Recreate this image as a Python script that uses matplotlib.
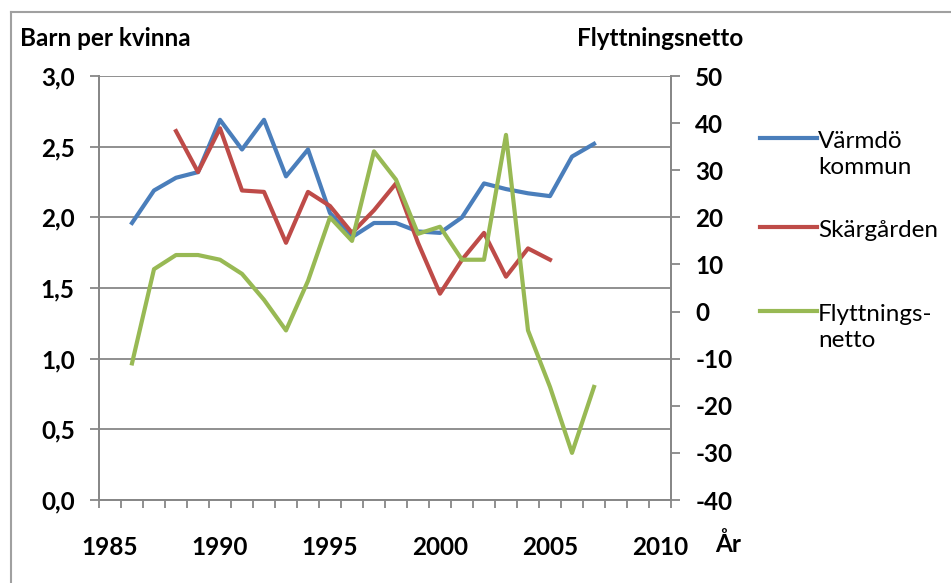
import matplotlib
matplotlib.use("Agg")
import matplotlib.pyplot as plt
from matplotlib.lines import Line2D

plt.rcParams['font.family'] = ['Lato', 'DejaVu Sans']
plt.rcParams['axes.unicode_minus'] = False

# Data
years_varmdo = list(range(1986, 2008))
varmdo = [1.96, 2.19, 2.28, 2.32, 2.69, 2.48, 2.69, 2.29, 2.48, 2.03, 1.86,
          1.96, 1.96, 1.90, 1.89, 2.00, 2.24, 2.20, 2.17, 2.15, 2.43, 2.52]

years_skargarden = list(range(1988, 2006))
skargarden = [2.61, 2.32, 2.63, 2.19, 2.18, 1.82, 2.18, 2.08, 1.89, 2.05,
              2.24, 1.82, 1.46, 1.70, 1.89, 1.58, 1.78, 1.70]

years_flytt = list(range(1986, 2008))
flytt = [-11, 9, 12, 12, 11, 8, 2.5, -4, 6.5, 20, 15, 34, 28, 16.5, 18, 11,
         11, 37.5, -4, -16, -30, -16]

left_ticks = [0.0, 0.5, 1.0, 1.5, 2.0, 2.5, 3.0]
left_tick_labels = ["0,0", "0,5", "1,0", "1,5", "2,0", "2,5", "3,0"]
right_ticks = [-40, -30, -20, -10, 0, 10, 20, 30, 40, 50]
x_ticks = [1985, 1990, 1995, 2000, 2005, 2010]

legend_labels = ["Värmdö\nkommun", "Skärgården", "Flyttnings-\nnetto"]
colors = ["#4A7EBB", "#BE4B48", "#98B954"]
grey = "#878787"
fs = 17.5

W, H = 951, 583
fig = plt.figure(figsize=(W / 100, H / 100), dpi=100)

# outer frame (top and left edges visible)
fig.add_artist(Line2D([11 / W, 11 / W], [0, 1 - 12 / H], transform=fig.transFigure,
                      color="#a0a0a0", lw=1.5))
fig.add_artist(Line2D([11 / W, 1], [1 - 12 / H, 1 - 12 / H], transform=fig.transFigure,
                      color="#a0a0a0", lw=1.5))

ax = fig.add_axes([99 / W, 1 - 500 / H, 572 / W, 424 / H])
ax2 = ax.twinx()

ax.plot(years_varmdo, varmdo, color=colors[0], lw=3, solid_joinstyle="round")
ax.plot(years_skargarden, skargarden, color=colors[1], lw=3, solid_joinstyle="round")
ax2.plot(years_flytt, flytt, color=colors[2], lw=3, solid_joinstyle="round")

ax.set_xlim(1984.5, 2010.5)
ax.set_ylim(0, 3.0)
ax2.set_ylim(-40, 50)

ax.set_yticks(left_ticks)
ax.set_yticklabels(left_tick_labels)
ax2.set_yticks(right_ticks)
ax.set_xticks(x_ticks)
ax.set_xticks([y + 0.5 for y in range(1984, 2011)], minor=True)

ax.yaxis.grid(True, color=grey, lw=1.3)
ax.set_axisbelow(True)

for a in (ax, ax2):
    a.spines["top"].set_visible(False)
    for s in ("left", "right", "bottom"):
        a.spines[s].set_color(grey)
        a.spines[s].set_linewidth(1.3)

ax.tick_params(axis="x", which="major", length=0, pad=26, labelsize=fs)
ax.tick_params(axis="x", which="minor", length=6, width=1.3, color=grey, direction="out")
ax.tick_params(axis="y", length=6.5, width=1.3, color=grey, pad=11, labelsize=fs)
ax2.tick_params(axis="y", length=6.5, width=1.3, color=grey, pad=11, labelsize=fs)
for lab in ax.get_xticklabels() + ax.get_yticklabels() + ax2.get_yticklabels():
    lab.set_fontweight("bold")

fig.text(20 / W, 1 - 38 / H, "Barn per kvinna", fontsize=fs, fontweight="bold",
         ha="left", va="center")
fig.text(743 / W, 1 - 38 / H, "Flyttningsnetto", fontsize=fs, fontweight="bold",
         ha="right", va="center")
fig.text(715 / W, 1 - 544 / H, "År", fontsize=fs, fontweight="bold",
         ha="left", va="center")

# legend: handle aligned with first line of each label
legend_y = [138, 227, 311]
for lab, col, ly in zip(legend_labels, colors, legend_y):
    fig.add_artist(Line2D([760 / W, 817 / W], [1 - ly / H, 1 - ly / H],
                          transform=fig.transFigure, color=col, lw=3))
    fig.text(818 / W, 1 - (ly - 7) / H, lab, fontsize=fs, ha="left", va="top",
             linespacing=1.3)

fig.savefig("out.png", dpi=100)
